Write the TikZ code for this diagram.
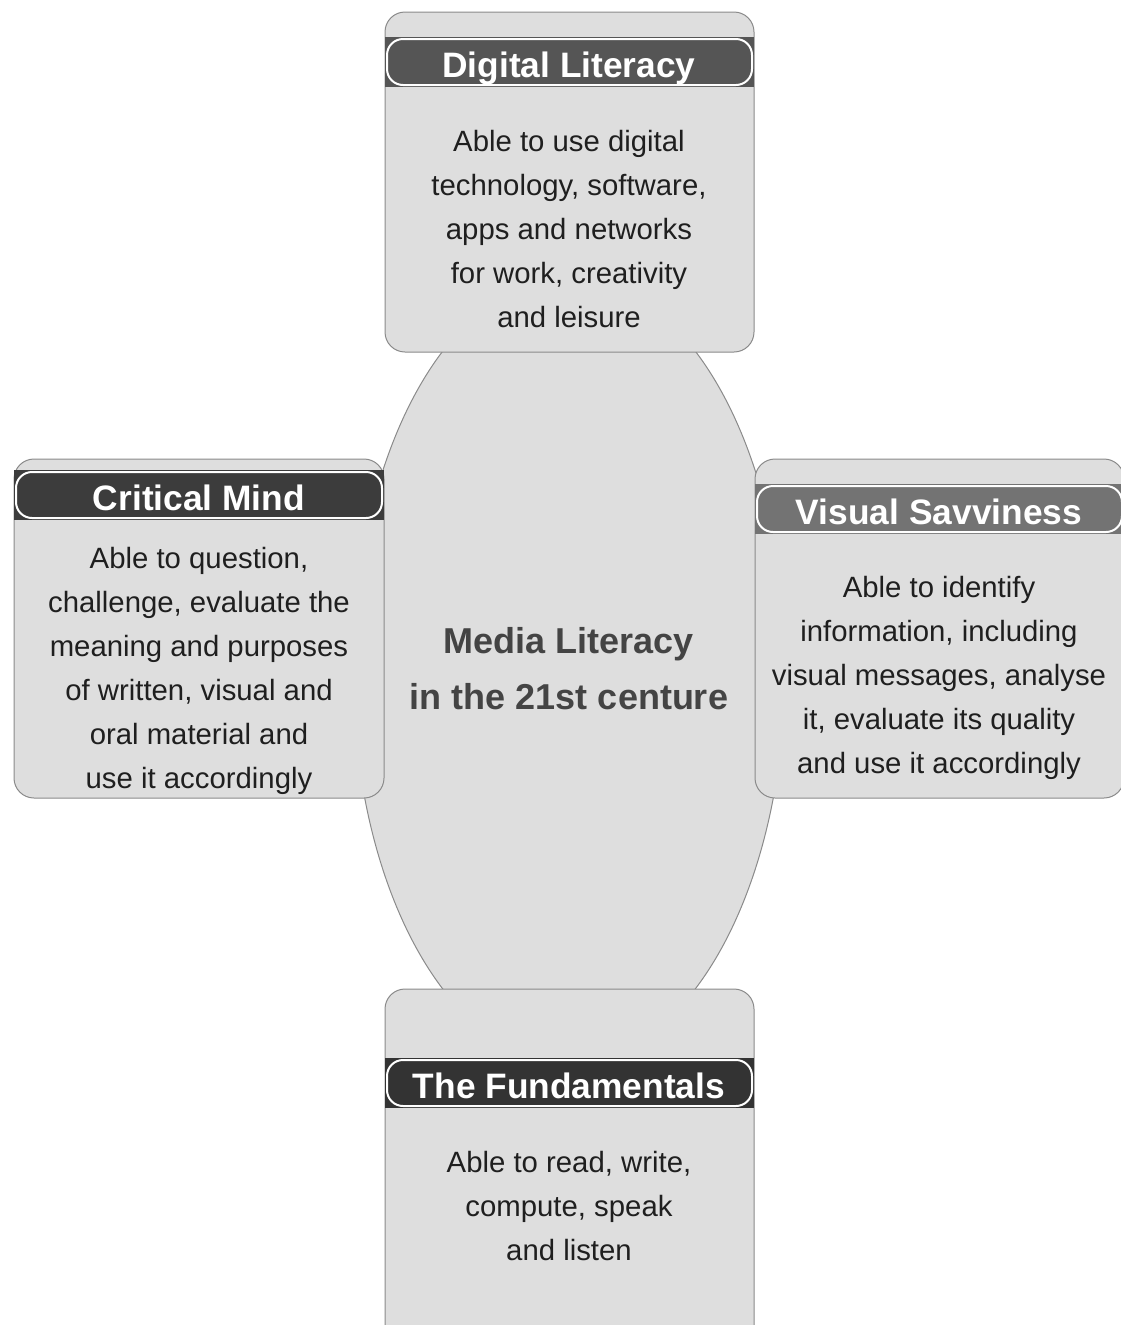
\documentclass[tikz,border=0pt]{standalone}
\usepackage{fontspec}
\setmainfont{Liberation Sans}
\usetikzlibrary{calc}
\definecolor{cardfill}{HTML}{DEDEDE}
\definecolor{cardline}{HTML}{8A8A8A}
\definecolor{barA}{HTML}{555555}
\definecolor{barB}{HTML}{3C3C3C}
\definecolor{barC}{HTML}{737373}
\definecolor{barD}{HTML}{333333}
\definecolor{coretext}{HTML}{444444}
\def\drawCard#1#2#3#4{
\draw[cardline, fill=cardfill, line width=0.75pt, rounded corners=15pt] (#1,#2) rectangle (#3,#4);
}
\def\drawBar#1#2#3#4{
\fill[#4] (#1,#2) rectangle (#3,#2+50);
\draw[white, line width=1.5pt, rounded corners=12pt] (#1+2,#2+2) rectangle (#3-2,#2+48);
}
\tikzset{
  title/.style={text=white, inner sep=0pt, anchor=base, font=\fontsize{26.5}{30}\selectfont\bfseries},
  body/.style={text=black!88, align=center, inner sep=0pt, font=\fontsize{22}{33}\selectfont},
  core/.style={text=coretext, align=center, inner sep=0pt, font=\fontsize{27}{42}\selectfont\bfseries}
}

\begin{document}
\begin{tikzpicture}[x=0.75pt, y=-0.75pt]
  \useasboundingbox (0,0) rectangle (1121,1325);
  \clip (0,0) rectangle (1121,1325);
  % centre
  \draw[cardline, fill=cardfill, line width=0.75pt] (569,670) ellipse [x radius=216, y radius=393];
  \node[core] (core) at (569,669) {Media Literacy\\in the 21st centure};
  % top
  \drawCard{385}{12}{754}{352}
  \drawBar{385}{37}{754}{barA}
  \node[title] (digTitle) at (569,77) {Digital Literacy};
  \node[body] (digText) at (569,229) {Able to use digital\\technology, software,\\apps and networks\\for work, creativity\\and leisure};
  % left
  \drawCard{14}{459}{384}{798}
  \drawBar{14}{470}{384}{barB}
  \node[title] (critTitle) at (199,510) {Critical Mind};
  \node[body] (critText) at (199,671) {Able to question,\\challenge, evaluate the\\meaning and purposes\\of written, visual and\\oral material and\\use it accordingly};
  % right
  \drawCard{755}{459}{1124}{798}
  \drawBar{755}{484}{1124}{barC}
  \node[title] (visTitle) at (939,524) {Visual Savviness};
  \node[body] (visText) at (939,678) {Able to identify\\information, including\\visual messages, analyse\\it, evaluate its quality\\and use it accordingly};
  % bottom
  \drawCard{385}{989}{754}{1345}
  \drawBar{385}{1058}{754}{barD}
  \node[title] (fundTitle) at (569,1098) {The Fundamentals};
  \node[body] (fundText) at (569,1206) {Able to read, write,\\compute, speak\\and listen};
\end{tikzpicture}
\end{document}
